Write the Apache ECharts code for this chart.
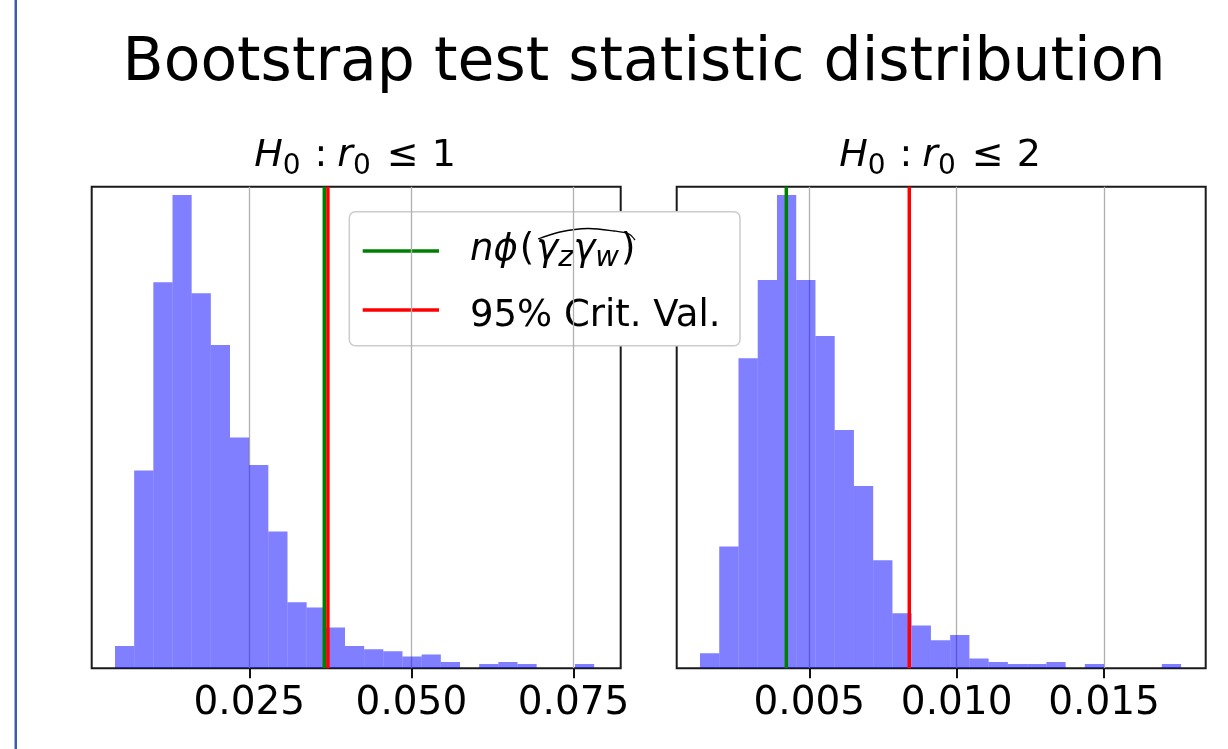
<!DOCTYPE html>
<html>
<head>
<meta charset="utf-8">
<script src="https://cdn.jsdelivr.net/npm/echarts@6/dist/echarts.min.js"></script>
<style>
html,body{margin:0;padding:0;background:#fff;}
#main{width:1228px;height:749px;}
</style>
</head>
<body>
<div id="main"></div>
<script>
// ---- data ----
var mainTitle = 'Bootstrap test statistic distribution';
var legendNames = ['nϕ(γzγw)', '95% Crit. Val.'];

// left panel: H0 : r0 <= 1  (25 bins, heights in arbitrary frequency units)
var leftBinStart = 0.004287;
var leftBinWidth = 0.002956;
var leftCounts = [22.3, 197.7, 386, 473.3, 375, 323.3, 230.7, 203.3, 136.7, 66, 60.7, 40.7, 22.3, 19, 17, 11.7, 13.7, 6.3, 0, 4.3, 6.3, 4.3, 0, 0, 4.3];
var leftStat = 0.036567;
var leftCrit = 0.037122;
var leftXMin = 0.000694, leftXMax = 0.08228;
var leftTicks = [0.025, 0.050, 0.075];

// right panel: H0 : r0 <= 2
var rightBinStart = 0.001291;
var rightBinWidth = 0.000653;
var rightCounts = [15, 121.7, 310, 388.3, 473.3, 388.3, 332.3, 238.3, 182.3, 108, 55, 42.7, 28, 33.3, 9.7, 6.3, 4.3, 4.3, 6.3, 0, 4.3, 0, 0, 0, 4.3];
var rightStat = 0.004220;
var rightCrit = 0.008393;
var rightXMin = 0.0005005, rightXMax = 0.018451;
var rightTicks = [0.005, 0.010, 0.015];

function bins(start, width, counts) {
  return counts.map(function (c, i) { return [start + i * width, start + (i + 1) * width, c]; });
}

var FONT = 'DejaVu Sans';
var chart = echarts.init(document.getElementById('main'), null, {renderer: 'canvas'});

function renderBar(params, api) {
  var p0 = api.coord([api.value(0), api.value(2)]);
  var p1 = api.coord([api.value(1), 0]);
  return {
    type: 'rect',
    shape: {x: p0[0], y: p0[1], width: p1[0] - p0[0], height: p1[1] - p0[1]},
    style: {fill: 'rgba(0,0,255,0.5)'}
  };
}

function xAxisDef(idx, min, max, ticks) {
  return {
    type: 'value', gridIndex: idx, min: min, max: max,
    axisLine: {show: false},
    axisTick: {show: true, length: 10, inside: false, customValues: ticks, lineStyle: {color: '#111', width: 2}},
    axisLabel: {show: true, customValues: ticks, margin: 16, color: '#000', fontSize: 39, fontFamily: FONT,
      formatter: function (v) { return v.toFixed(3); }},
    splitLine: {show: true, lineStyle: {color: '#b0b0b0', width: 1.3}}
  };
}

function yMax(counts) { return Math.max.apply(null, counts) * 1.0175; }

function yAxisDef(idx, counts) {
  return {type: 'value', gridIndex: idx, min: 0, max: yMax(counts), show: false, splitLine: {show: false}};
}

function vline(idx, v, counts, color, name) {
  return {
    type: 'line', name: name, xAxisIndex: idx, yAxisIndex: idx, z: 5, silent: true,
    showSymbol: false, symbol: 'none', clip: true,
    lineStyle: {color: color, width: 3.5},
    data: [[v, 0], [v, yMax(counts)]]
  };
}

var subRich = {
  i: {fontSize: 38, fontStyle: 'italic', fontFamily: FONT, color: '#000', verticalAlign: 'top'},
  n: {fontSize: 38, fontFamily: FONT, color: '#000', verticalAlign: 'top'},
  c: {fontSize: 38, fontFamily: FONT, color: '#000', verticalAlign: 'top', padding: [0, 10, 0, 14]},
  l: {fontSize: 38, fontFamily: FONT, color: '#000', verticalAlign: 'top', padding: [0, 13, 0, 16]},
  s: {fontSize: 28, fontFamily: FONT, color: '#000', verticalAlign: 'top', padding: [16, 0, 0, 0]}
};

var option = {
  backgroundColor: '#ffffff',
  animation: false,
  title: [
    {text: mainTitle, left: 644, top: 34.9, padding: 0, textAlign: 'center',
      textStyle: {fontSize: 60, fontWeight: 'normal', fontFamily: FONT, color: '#000'}},
    {text: '{i|H}{s|0}{c|:}{i|r}{s|0}{l|≤}{n|1}', left: 355, top: 137.2, padding: 0, textAlign: 'center',
      textStyle: {fontSize: 38, fontWeight: 'normal', fontFamily: FONT, color: '#000', rich: subRich}},
    {text: '{i|H}{s|0}{c|:}{i|r}{s|0}{l|≤}{n|2}', left: 940, top: 137.2, padding: 0, textAlign: 'center',
      textStyle: {fontSize: 38, fontWeight: 'normal', fontFamily: FONT, color: '#000', rich: subRich}}
  ],
  grid: [
    {left: 91.7, top: 186.7, width: 529, height: 481.6, show: true, borderColor: '#1a1a1a', borderWidth: 2, backgroundColor: 'transparent', containLabel: false},
    {left: 676.7, top: 186.7, width: 529, height: 481.6, show: true, borderColor: '#1a1a1a', borderWidth: 2, backgroundColor: 'transparent', containLabel: false}
  ],
  xAxis: [xAxisDef(0, leftXMin, leftXMax, leftTicks), xAxisDef(1, rightXMin, rightXMax, rightTicks)],
  yAxis: [yAxisDef(0, leftCounts), yAxisDef(1, rightCounts)],
  series: [
    {type: 'custom', name: 'left', xAxisIndex: 0, yAxisIndex: 0, renderItem: renderBar, clip: true,
      encode: {x: [0, 1], y: 2}, data: bins(leftBinStart, leftBinWidth, leftCounts)},
    {type: 'custom', name: 'right', xAxisIndex: 1, yAxisIndex: 1, renderItem: renderBar, clip: true,
      encode: {x: [0, 1], y: 2}, data: bins(rightBinStart, rightBinWidth, rightCounts)},
    vline(0, leftStat, leftCounts, '#008000', legendNames[0]),
    vline(0, leftCrit, leftCounts, '#ff0000', legendNames[1]),
    vline(1, rightStat, rightCounts, '#008000', legendNames[0]),
    vline(1, rightCrit, rightCounts, '#ff0000', legendNames[1])
  ],
  graphic: [
    {type: 'rect', z: 100, silent: true, shape: {x: 14.5, y: 0, width: 2.5, height: 749}, style: {fill: '#3d5ca8'}},
    {type: 'group', z: 100, silent: true, children: [
      {type: 'rect', shape: {x: 349.3, y: 211.7, width: 390.7, height: 134, r: 6}, style: {fill: '#ffffff', stroke: '#cccccc', lineWidth: 1.5}},
      {type: 'line', shape: {x1: 362.7, y1: 251, x2: 439, y2: 251}, style: {stroke: '#008000', lineWidth: 3.5}},
      {type: 'line', shape: {x1: 362.7, y1: 310, x2: 439, y2: 310}, style: {stroke: '#ff0000', lineWidth: 3.5}},
      {type: 'text', x: 470, y: 232, style: {
        text: '{it|nϕ}{rm|(}{it|γ}{sb|z}{it|γ}{sb|w}{rm|)}',
        textVerticalAlign: 'top', textAlign: 'left',
        rich: {
          it: {fontSize: 37, fontStyle: 'italic', fontFamily: FONT, fill: '#000', verticalAlign: 'top'},
          rm: {fontSize: 37, fontFamily: FONT, fill: '#000', verticalAlign: 'top', padding: [0, 2, 0, 2]},
          sb: {fontSize: 29, fontStyle: 'italic', fontFamily: FONT, fill: '#000', verticalAlign: 'top', padding: [12, 0, 0, 0]}
        }
      }},
      {type: 'polyline', shape: {points: [[538, 239], [560, 232], [588, 228.5], [614, 231], [629, 234], [635, 240]], smooth: 0.3},
        style: {stroke: '#000', lineWidth: 1.3, fill: null}},
      {type: 'text', x: 470, y: 316.2, style: {text: legendNames[1], font: '37px "DejaVu Sans"', fill: '#000', textVerticalAlign: 'middle', textAlign: 'left'}}
    ]}
  ]
};
chart.setOption(option);
</script>
</body>
</html>
